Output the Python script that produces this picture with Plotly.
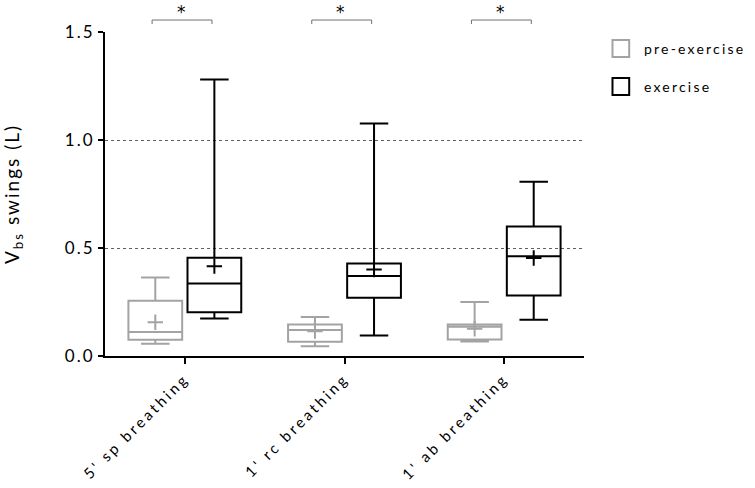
import plotly.graph_objects as go

categories = ["5' sp breathing", "1' rc breathing", "1' ab breathing"]

pre_lower = [0.057, 0.045, 0.067]
pre_q1 = [0.075, 0.066, 0.076]
pre_median = [0.111, 0.120, 0.135]
pre_q3 = [0.256, 0.146, 0.146]
pre_upper = [0.364, 0.180, 0.250]
pre_mean = [0.156, 0.115, 0.126]

ex_lower = [0.174, 0.095, 0.168]
ex_q1 = [0.203, 0.270, 0.280]
ex_median = [0.336, 0.370, 0.462]
ex_q3 = [0.455, 0.428, 0.600]
ex_upper = [1.280, 1.076, 0.807]
ex_mean = [0.416, 0.400, 0.454]

series_names = ["pre-exercise", "exercise"]
y_ticks = [0.0, 0.5, 1.0, 1.5]
y_ticktext = ["0.0", "0.5", "1.0", "1.5"]

FONT = "Lato"
GRAY = "#A3A3A3"
BLACK = "#000000"
BOXGAP = 0.26
BOXGROUPGAP = 0.09
off = (1 - BOXGAP) / 4

# plot area in screen pixels
PL, PR, PT, PB = 96.5, 584, 32, 356.5
PW, PH = PR - PL, PB - PT

idx = list(range(len(categories)))

fig = go.Figure()
for name, col, lo, q1, med, q3, up, mn, sgn in [
    (series_names[0], GRAY, pre_lower, pre_q1, pre_median, pre_q3, pre_upper, pre_mean, -1),
    (series_names[1], BLACK, ex_lower, ex_q1, ex_median, ex_q3, ex_upper, ex_mean, 1),
]:
    fig.add_trace(go.Box(
        x=idx, q1=q1, median=med, q3=q3, lowerfence=lo, upperfence=up,
        name=name, line=dict(color=col, width=2), fillcolor="rgba(255,255,255,0)",
        whiskerwidth=0.53, showlegend=False, boxpoints=False,
    ))
    fig.add_trace(go.Scatter(
        x=[i + sgn * off for i in idx], y=mn, mode="markers",
        marker=dict(symbol="cross-thin", size=11, line=dict(color=col, width=2)),
        showlegend=False, hoverinfo="skip",
    ))

# significance brackets
for i in idx:
    x0, x1 = i - off - 0.02, i + off - 0.015
    yl, yh = (PB - 24) / PH, (PB - 20) / PH
    fig.add_shape(type="path",
                  path=f"M {x0},{yl} L {x0},{yh} L {x1},{yh} L {x1},{yl}",
                  xref="x", yref="paper", line=dict(color="#707070", width=1))
    fig.add_annotation(x=(x0 + x1) / 2, y=(PB - 0.5) / PH, xref="x", yref="paper", text="*",
                       showarrow=False, yanchor="top", borderpad=0,
                       font=dict(family="DejaVu Sans", size=17, color=BLACK))

# custom legend
for k, (name, col) in enumerate(zip(series_names, [GRAY, BLACK])):
    ytop = 40 + k * 38
    fig.add_shape(type="rect", xref="paper", yref="paper",
                  x0=(613 - PL) / PW, x1=(630 - PL) / PW,
                  y0=(PB - ytop) / PH, y1=(PB - ytop - 17) / PH,
                  line=dict(color=col, width=2), fillcolor="white")
    fig.add_annotation(xref="paper", yref="paper", x=(643 - PL) / PW,
                       y=(PB - ytop - 8.5) / PH, text=name, showarrow=False,
                       xanchor="left", yanchor="middle", align="left",
                       font=dict(family=FONT, size=14, color=BLACK))

fig.update_layout(
    width=755, height=488,
    margin=dict(l=PL, r=755 - PR, t=PT, b=488 - PB),
    plot_bgcolor="white", paper_bgcolor="white",
    boxmode="group", boxgap=BOXGAP, boxgroupgap=BOXGROUPGAP,
    font=dict(family=FONT, color=BLACK),
)
fig.update_xaxes(
    range=[-0.5, 2.5], tickvals=idx, ticktext=categories, tickangle=-45,
    showline=True, linecolor=BLACK, linewidth=2, ticks="outside", ticklen=6,
    tickwidth=2, tickcolor=BLACK, showgrid=False, zeroline=False,
    tickfont=dict(family=FONT, size=15, color=BLACK),
)
fig.update_yaxes(
    range=[0, 1.5], tickvals=y_ticks, ticktext=y_ticktext,
    showline=True, linecolor=BLACK, linewidth=2, ticks="outside", ticklen=5,
    tickwidth=2, tickcolor=BLACK, showgrid=True, gridcolor="#606060",
    griddash="dot", gridwidth=1, zeroline=False,
    tickfont=dict(family=FONT, size=17, color=BLACK),
    title=dict(text="V<sub>bs</sub> swings (L)", font=dict(family=FONT, size=19, color=BLACK),
               standoff=46),
)

css = ("body{margin:0}"
       ".xtick text{letter-spacing:3px}"
       ".ytick text{letter-spacing:2px}"
       ".ytitle{letter-spacing:2px}"
       ".annotation-text{letter-spacing:2.2px}")
post = ("var s=document.createElement('style');s.textContent=%r;"
        "document.head.appendChild(s);" % css)

fig.write_html("out.html", post_script=post, config={"displayModeBar": False})
